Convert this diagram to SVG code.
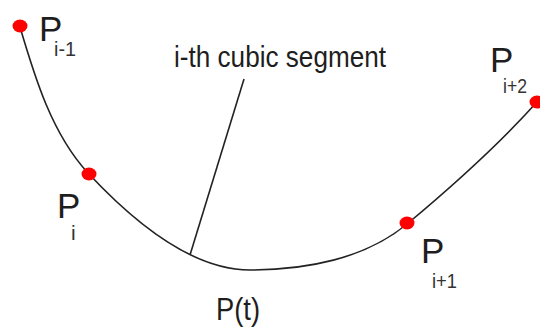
<svg xmlns="http://www.w3.org/2000/svg" width="540" height="327" viewBox="0 0 540 327">
<style>
.lbl{font-family:"Liberation Sans",Arial,sans-serif;fill:#1e1e1e}
.big{font-size:35px}
.sub{font-size:21px;fill:#333333}
.curve{fill:none;stroke:#222;stroke-width:1.6}
.dot{fill:#ff0000}
</style>
<rect width="540" height="327" fill="#ffffff"/>
<g id="connectors">
<path class="curve" d="M20,27 C35,78 52,134 88,173 C129,217 190,270 250,270 C305,270 365,259 407,224 C449,189 500,143 537,102"/>
<line class="curve" x1="190" y1="255" x2="244" y2="79"/>
</g>
<g id="label-segment">
<text class="lbl" x="174" y="67" font-size="29" textLength="212" lengthAdjust="spacingAndGlyphs">i-th cubic segment</text>
</g>
<g id="node-p-im1">
<ellipse class="dot" cx="20" cy="26" rx="7.5" ry="6.5"/>
<text class="lbl big" x="39" y="40.5">P</text>
<text class="lbl sub" x="54" y="55.5" textLength="22" lengthAdjust="spacingAndGlyphs">i-1</text>
</g>
<g id="node-p-i">
<ellipse class="dot" cx="89" cy="174" rx="7.5" ry="6.5"/>
<text class="lbl big" x="57" y="218">P</text>
<text class="lbl sub" x="71" y="240">i</text>
</g>
<g id="node-p-ip1">
<ellipse class="dot" cx="407" cy="223" rx="7.5" ry="6.5"/>
<text class="lbl big" x="421" y="263">P</text>
<text class="lbl sub" x="432" y="288" textLength="25" lengthAdjust="spacingAndGlyphs">i+1</text>
</g>
<g id="node-p-ip2">
<ellipse class="dot" cx="537" cy="102" rx="7.5" ry="6.5"/>
<text class="lbl big" x="490" y="72">P</text>
<text class="lbl sub" x="503" y="93" textLength="24" lengthAdjust="spacingAndGlyphs">i+2</text>
</g>
<g id="label-pt">
<text class="lbl" x="216" y="320" font-size="31" textLength="44" lengthAdjust="spacingAndGlyphs">P(t)</text>
</g>
</svg>
